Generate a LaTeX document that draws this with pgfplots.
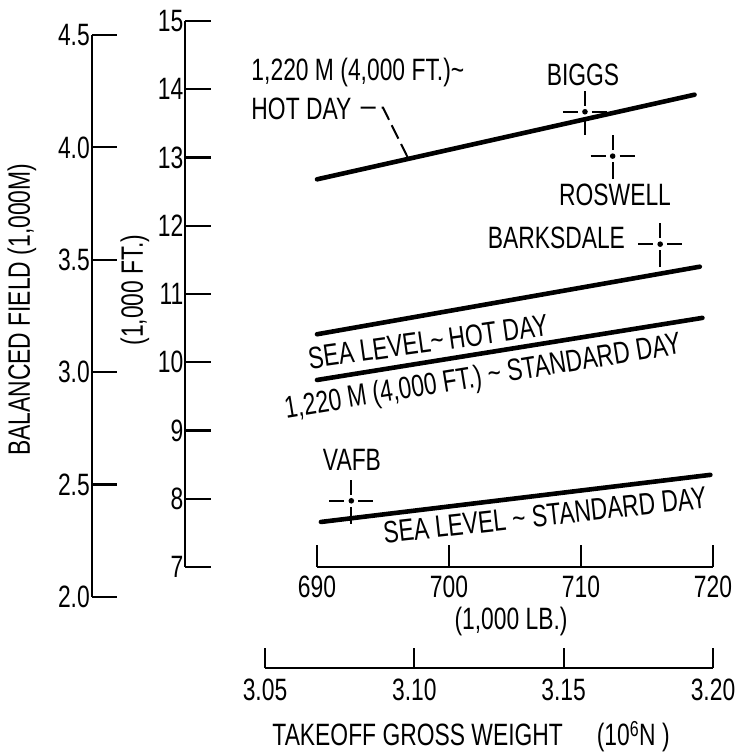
\documentclass[border=0pt]{standalone}
\usepackage{pgfplots}
\pgfplotsset{compat=1.18}
\usepackage{fontspec}
\setmainfont{Liberation Sans}[FakeStretch=0.74]
\newcommand\bigfont{\fontsize{31}{35}\selectfont}

\pgfdeclareplotmark{crossdot}{%
  \pgfpathcircle{\pgfpointorigin}{2.8bp}\pgfusepathqfill
  \pgfpathmoveto{\pgfpoint{-22bp}{0bp}}\pgfpathlineto{\pgfpoint{-7bp}{0bp}}%
  \pgfpathmoveto{\pgfpoint{7bp}{0bp}}\pgfpathlineto{\pgfpoint{22bp}{0bp}}%
  \pgfpathmoveto{\pgfpoint{0bp}{-23bp}}\pgfpathlineto{\pgfpoint{0bp}{-6bp}}%
  \pgfpathmoveto{\pgfpoint{0bp}{6bp}}\pgfpathlineto{\pgfpoint{0bp}{21bp}}%
  \pgfusepathqstroke
}

\pgfplotsset{
  /pgf/number format/assume math mode=true,
  helper/.style={scale only axis, anchor=south west, font=\bigfont,
    axis line style={line width=2.4bp},
    tick style={line width=2.2bp, black},
    tick align=inside, clip=false},
}

\begin{document}
\begin{tikzpicture}
\path[use as bounding box] (0,0) rectangle (737bp,752bp);

% metre scale
\begin{axis}[helper, at={(92bp,155bp)}, width=100bp, height=562bp,
  xmin=0, xmax=1, ymin=2, ymax=4.5,
  axis y line*=left, axis x line=none, xtick=\empty,
  ytick={2,2.5,3,3.5,4,4.5}, major tick length=25bp,
  yticklabel style={/pgf/number format/.cd, fixed, precision=1, fixed zerofill, /tikz/.cd, inner sep=2bp},
  ylabel={BALANCED FIELD (1,000M)},
  ylabel style={at={(axis description cs:-0.70,0.511)}, anchor=center}]
\end{axis}

% main axis (1,000 ft vs 1,000 lb)
\begin{axis}[helper, at={(185bp,185bp)}, width=528bp, height=546bp,
  xmin=680, xmax=720, ymin=7, ymax=15,
  axis y line*=left, axis x line=none, xtick=\empty,
  ytick={7,8,...,15}, major tick length=26bp,
  yticklabel style={inner sep=1.5bp},
  ylabel={(1,000 FT.)},
  ylabel style={at={(axis description cs:-0.0947,0.507)}, anchor=center}]
% 1,220 m hot day
\addplot[line width=4.6bp, line cap=round] coordinates {(690,12.68) (718.6,13.92)};
% sea level hot day
\addplot[line width=4.6bp, line cap=round] coordinates {(690,10.41) (719,11.40)};
% 1,220 m standard day
\addplot[line width=4.6bp, line cap=round] coordinates {(690,9.74) (719.2,10.65)};
% sea level standard day
\addplot[line width=4.6bp, line cap=round] coordinates {(690.3,7.66) (719.8,8.35)};
% leader
\addplot[line width=2bp, dash pattern=on 15bp off 6bp] coordinates {(693.3,13.73) (695.0,13.73) (696.9,12.99)};
% bases
\addplot[only marks, mark=crossdot, mark options={line width=1.8bp}] coordinates {(710.3,13.67) (712.4,13.02) (716.0,11.73) (692.6,7.97)};

\node[font=\bigfont, anchor=west] at (axis cs:684.77,14.24) {1,220 M (4,000 FT.)\textasciitilde};
\node[font=\bigfont, anchor=west] at (axis cs:684.77,13.71) {HOT DAY};
\node[font=\bigfont] at (axis cs:710.15,14.21) {BIGGS};
\node[font=\bigfont] at (axis cs:712.58,12.45) {ROSWELL};
\node[font=\bigfont, anchor=east] at (axis cs:713.6,11.82) {BARKSDALE};
\node[font=\bigfont, rotate=8, inner sep=0pt] at (axis cs:698.41,10.30) {SEA LEVEL\textasciitilde\,HOT DAY};
\node[font=\bigfont, rotate=9.3, inner sep=0pt] at (axis cs:702.58,9.77) {1,220 M (4,000 FT.) \textasciitilde\ STANDARD DAY};
\node[font=\bigfont] at (axis cs:692.65,8.57) {VAFB};
\node[font=\bigfont, rotate=6.3, inner sep=0pt] at (axis cs:707.27,7.76) {SEA LEVEL \textasciitilde\ STANDARD DAY};
\end{axis}

% 1,000 lb scale
\begin{axis}[helper, at={(317bp,185bp)}, width=396bp, height=100bp,
  xmin=690, xmax=720, ymin=0, ymax=1,
  axis x line*=bottom, axis y line=none, ytick=\empty,
  xtick={690,700,710,720}, major tick length=22bp,
  xticklabel style={inner sep=2bp, yshift=-7bp},
  xlabel={(1,000 LB.)},
  xlabel style={at={(axis description cs:0.49,-0.55)}, anchor=center}]
\end{axis}

% 10^6 N scale
\begin{axis}[helper, at={(265bp,84bp)}, width=448bp, height=100bp,
  xmin=3.05, xmax=3.20, ymin=0, ymax=1,
  axis x line*=bottom, axis y line=none, ytick=\empty,
  xtick={3.05,3.10,3.15,3.20}, major tick length=20bp,
  xticklabel style={/pgf/number format/.cd, fixed, precision=2, fixed zerofill, /tikz/.cd, inner sep=2bp, yshift=-9bp},
  xlabel={TAKEOFF GROSS WEIGHT\hspace{1.1em}(10\textsuperscript{6}N )},
  xlabel style={at={(axis description cs:0.46,-0.69)}, anchor=center}]
\end{axis}
\end{tikzpicture}
\end{document}
